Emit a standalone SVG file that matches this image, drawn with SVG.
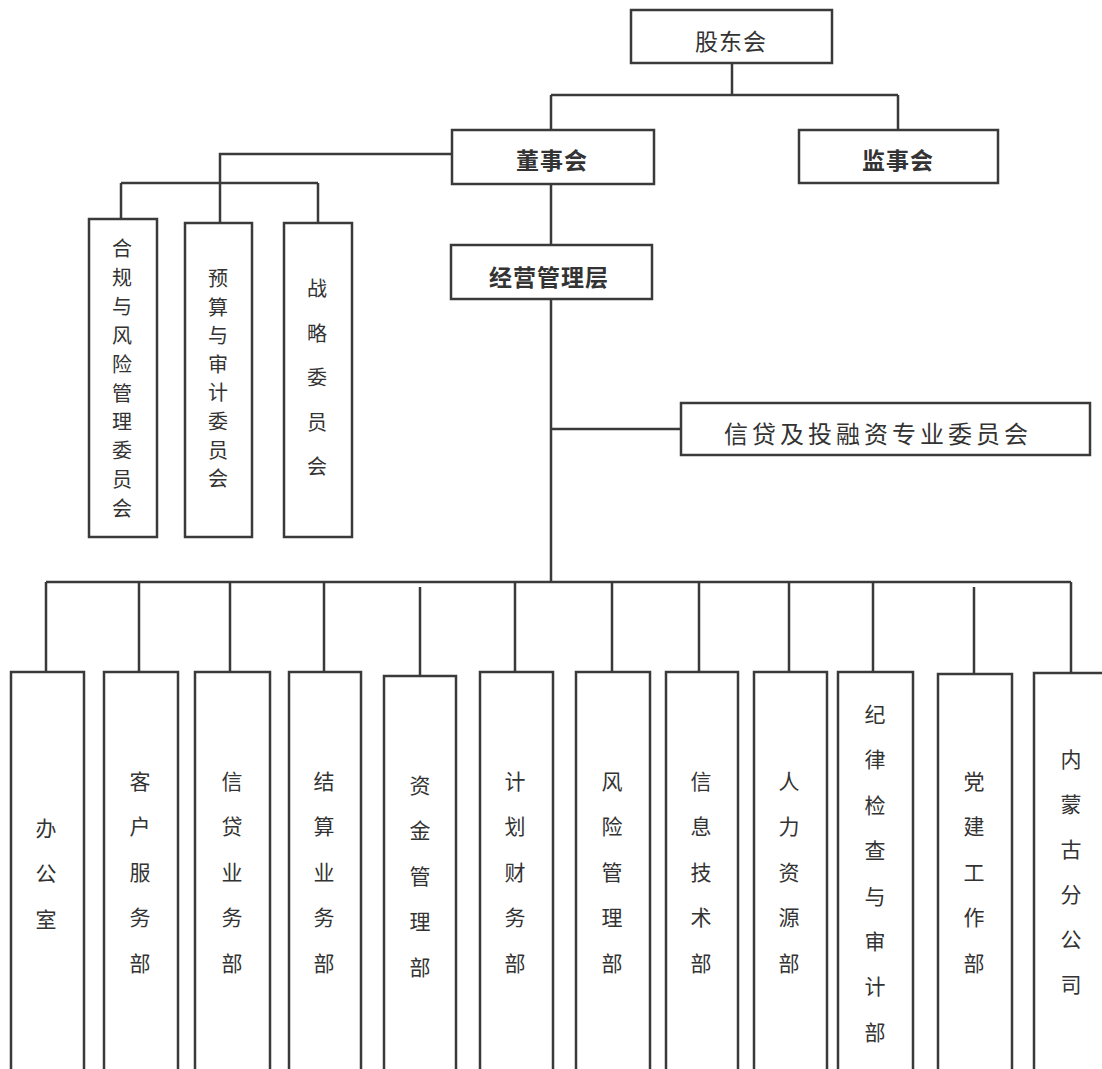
<svg xmlns="http://www.w3.org/2000/svg" width="1102" height="1069" viewBox="0 0 1102 1069">
<style>
.box{fill:#fff;stroke:#3a3a3a;stroke-width:2.5}
.ln{fill:none;stroke:#3a3a3a;stroke-width:2.5}
text{font-family:"Noto Sans CJK SC","Noto Sans",sans-serif;fill:#333;text-anchor:middle;dominant-baseline:central}
.h{font-size:23px}
.b{font-weight:bold}
.v{font-size:21px}
.c{font-size:20px}
</style>
<rect width="1102" height="1069" fill="#fff"/>
<g id="connectors">
<path class="ln" d="M732,63 V95 M551,95 H898 M551,95 V130 M898,95 V130"/>
<path class="ln" d="M551,184 V245"/>
<path class="ln" d="M452,154 H220 V223 M121,183 H318 M121,183 V219 M318,183 V223"/>
<path class="ln" d="M551,299 V582 M551,429 H681"/>
<path class="ln" d="M46,582 H1071"/>
<path class="ln" d="M46,582 V672 M139,582 V672 M230,582 V672 M324,582 V672 M420,587 V676 M515,582 V672 M612,582 V672 M699,582 V672 M789,582 V672 M873,582 V672 M974,587 V674 M1071,582 V673"/>
</g>
<g id="n-gudonghui"><rect class="box" x="631" y="10" width="201" height="53"/><text class="h" x="731" y="40" letter-spacing="1">股东会</text></g>
<g id="n-dongshihui"><rect class="box" x="452" y="130" width="202" height="54"/><text class="h b" x="552" y="159" letter-spacing="1">董事会</text></g>
<g id="n-jianshihui"><rect class="box" x="799" y="130" width="199" height="53"/><text class="h b" x="898" y="159" letter-spacing="1">监事会</text></g>
<g id="n-jingying"><rect class="box" x="451" y="245" width="201" height="54"/><text class="h b" x="549" y="276" letter-spacing="1">经营管理层</text></g>
<g id="n-xindai-wyh"><rect class="box" x="681" y="403" width="409" height="52"/><text x="878" y="432" font-size="24" letter-spacing="4">信贷及投融资专业委员会</text></g>
<g id="n-hegui"><rect class="box" x="89" y="219" width="68" height="318"/>
<text class="c"><tspan x="122" y="247">合</tspan><tspan x="122" dy="28.9">规</tspan><tspan x="122" dy="28.9">与</tspan><tspan x="122" dy="28.9">风</tspan><tspan x="122" dy="28.9">险</tspan><tspan x="122" dy="28.9">管</tspan><tspan x="122" dy="28.9">理</tspan><tspan x="122" dy="28.9">委</tspan><tspan x="122" dy="28.9">员</tspan><tspan x="122" dy="28.9">会</tspan></text></g>
<g id="n-yusuan"><rect class="box" x="185" y="223" width="67" height="314"/>
<text class="c"><tspan x="218" y="277">预</tspan><tspan x="218" dy="28.6">算</tspan><tspan x="218" dy="28.6">与</tspan><tspan x="218" dy="28.6">审</tspan><tspan x="218" dy="28.6">计</tspan><tspan x="218" dy="28.6">委</tspan><tspan x="218" dy="28.6">员</tspan><tspan x="218" dy="28.6">会</tspan></text></g>
<g id="n-zhanlue"><rect class="box" x="284" y="223" width="68" height="314"/>
<text class="c"><tspan x="317" y="287">战</tspan><tspan x="317" dy="44.6">略</tspan><tspan x="317" dy="44.6">委</tspan><tspan x="317" dy="44.6">员</tspan><tspan x="317" dy="44.6">会</tspan></text></g>
<g id="n-bangongshi"><rect class="box" x="11" y="672" width="73" height="410"/>
<text class="v"><tspan x="46" y="827">办</tspan><tspan x="46" dy="45.4">公</tspan><tspan x="46" dy="45.4">室</tspan></text></g>
<g id="n-kehu"><rect class="box" x="104" y="672" width="74" height="410"/>
<text class="v"><tspan x="140" y="780">客</tspan><tspan x="140" dy="45.4">户</tspan><tspan x="140" dy="45.4">服</tspan><tspan x="140" dy="45.4">务</tspan><tspan x="140" dy="45.4">部</tspan></text></g>
<g id="n-xindai"><rect class="box" x="195" y="672" width="75" height="410"/>
<text class="v"><tspan x="232" y="780">信</tspan><tspan x="232" dy="45.4">贷</tspan><tspan x="232" dy="45.4">业</tspan><tspan x="232" dy="45.4">务</tspan><tspan x="232" dy="45.4">部</tspan></text></g>
<g id="n-jiesuan"><rect class="box" x="289" y="672" width="72" height="410"/>
<text class="v"><tspan x="324" y="780">结</tspan><tspan x="324" dy="45.4">算</tspan><tspan x="324" dy="45.4">业</tspan><tspan x="324" dy="45.4">务</tspan><tspan x="324" dy="45.4">部</tspan></text></g>
<g id="n-zijin"><rect class="box" x="384" y="676" width="72" height="410"/>
<text class="v"><tspan x="420" y="784">资</tspan><tspan x="420" dy="45.4">金</tspan><tspan x="420" dy="45.4">管</tspan><tspan x="420" dy="45.4">理</tspan><tspan x="420" dy="45.4">部</tspan></text></g>
<g id="n-jihua"><rect class="box" x="480" y="672" width="73" height="410"/>
<text class="v"><tspan x="515" y="780">计</tspan><tspan x="515" dy="45.4">划</tspan><tspan x="515" dy="45.4">财</tspan><tspan x="515" dy="45.4">务</tspan><tspan x="515" dy="45.4">部</tspan></text></g>
<g id="n-fengxian"><rect class="box" x="576" y="672" width="74" height="410"/>
<text class="v"><tspan x="612" y="780">风</tspan><tspan x="612" dy="45.4">险</tspan><tspan x="612" dy="45.4">管</tspan><tspan x="612" dy="45.4">理</tspan><tspan x="612" dy="45.4">部</tspan></text></g>
<g id="n-xinxi"><rect class="box" x="666" y="672" width="72" height="410"/>
<text class="v"><tspan x="701" y="780">信</tspan><tspan x="701" dy="45.4">息</tspan><tspan x="701" dy="45.4">技</tspan><tspan x="701" dy="45.4">术</tspan><tspan x="701" dy="45.4">部</tspan></text></g>
<g id="n-renli"><rect class="box" x="754" y="672" width="73" height="410"/>
<text class="v"><tspan x="789" y="780">人</tspan><tspan x="789" dy="45.4">力</tspan><tspan x="789" dy="45.4">资</tspan><tspan x="789" dy="45.4">源</tspan><tspan x="789" dy="45.4">部</tspan></text></g>
<g id="n-jilv"><rect class="box" x="838" y="672" width="75" height="410"/>
<text class="v"><tspan x="875" y="713">纪</tspan><tspan x="875" dy="45.4">律</tspan><tspan x="875" dy="45.4">检</tspan><tspan x="875" dy="45.4">查</tspan><tspan x="875" dy="45.4">与</tspan><tspan x="875" dy="45.4">审</tspan><tspan x="875" dy="45.4">计</tspan><tspan x="875" dy="45.4">部</tspan></text></g>
<g id="n-dangjian"><rect class="box" x="938" y="674" width="74" height="410"/>
<text class="v"><tspan x="974" y="780">党</tspan><tspan x="974" dy="45.4">建</tspan><tspan x="974" dy="45.4">工</tspan><tspan x="974" dy="45.4">作</tspan><tspan x="974" dy="45.4">部</tspan></text></g>
<g id="n-neimenggu"><rect class="box" x="1034" y="673" width="73" height="410"/>
<text class="v"><tspan x="1071" y="758">内</tspan><tspan x="1071" dy="45">蒙</tspan><tspan x="1071" dy="45">古</tspan><tspan x="1071" dy="45">分</tspan><tspan x="1071" dy="45">公</tspan><tspan x="1071" dy="45">司</tspan></text></g>
</svg>
